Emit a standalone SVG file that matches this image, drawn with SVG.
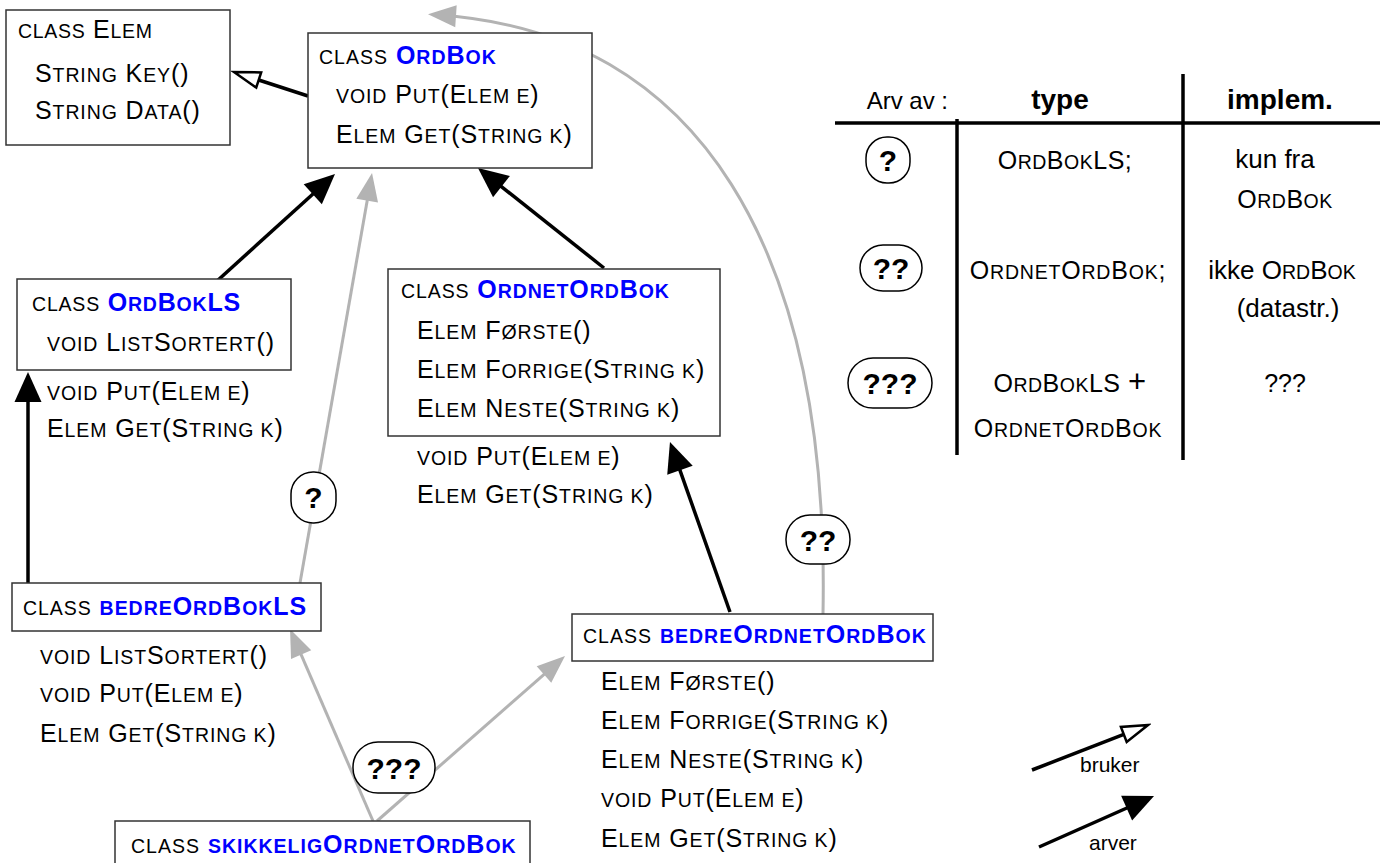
<svg xmlns="http://www.w3.org/2000/svg" width="1386" height="863" viewBox="0 0 1386 863">
  <style>
    .t { font-family: "Liberation Sans", Arial, Helvetica, sans-serif; font-size: 25px; fill: #000; }
    .m { letter-spacing: 0.9px; }
    .s { font-size: 19.5px; }
    .b { font-weight: bold; fill: #0000ff; }
    .box { fill: #fff; stroke: #333; stroke-width: 1.5; }
    .blk { stroke: #000; stroke-width: 3.5; fill: none; }
    .gry { stroke: #b3b3b3; stroke-width: 3; fill: none; }
    .bub { fill: #fff; stroke: #000; stroke-width: 1.5; }
    .q { font-family: "Liberation Sans", Arial, Helvetica, sans-serif; font-weight: bold; font-size: 30px; text-anchor: middle; fill: #000; }
    .rule { stroke: #000; stroke-width: 3.5; }
    .c { text-anchor: middle; }
  </style>
  <defs>
    <!-- filled head: inheritance -->
    <marker id="arv" viewBox="-22 -15 34 30" refX="0" refY="0" markerWidth="34" markerHeight="30" orient="auto" markerUnits="userSpaceOnUse">
      <path d="M10,0 L-20,-13.5 L-20,13.5 z" fill="#000"/>
    </marker>
    <!-- grey filled head -->
    <marker id="arvGrey" viewBox="-20 -13 32 26" refX="0" refY="0" markerWidth="32" markerHeight="26" orient="auto" markerUnits="userSpaceOnUse">
      <path d="M10,0 L-18,-11 L-18,11 z" fill="#b3b3b3"/>
    </marker>
    <!-- open head: uses -->
    <marker id="bruk" viewBox="-3 -11 32 22" refX="0" refY="0" markerWidth="32" markerHeight="22" orient="auto" markerUnits="userSpaceOnUse">
      <path d="M26,0 L0,-8 L0,8 z" fill="#fff" stroke="#000" stroke-width="2.5" stroke-linejoin="miter"/>
    </marker>
  </defs>

  <rect width="1386" height="863" fill="#fff"/>

  <!-- connectors -->
  <g id="connectors">
    <path class="gry" d="M823,614 C830,250 700,32 438,15" marker-end="url(#arvGrey)"/>
    <line class="gry" x1="300" y1="583" x2="370.3" y2="182.9" marker-end="url(#arvGrey)"/>
    <line class="gry" x1="373" y1="821" x2="294" y2="638.2" marker-end="url(#arvGrey)"/>
    <line class="gry" x1="377" y1="821" x2="557.5" y2="662.6" marker-end="url(#arvGrey)"/>

    <line class="blk" x1="217" y1="281" x2="327.6" y2="180.7" marker-end="url(#arv)"/>
    <line class="blk" x1="604" y1="268" x2="485.8" y2="174.2" marker-end="url(#arv)"/>
    <line class="blk" x1="28" y1="583" x2="28" y2="382" marker-end="url(#arv)"/>
    <line class="blk" x1="730" y1="612" x2="673.3" y2="451.4" marker-end="url(#arv)"/>
    <line class="blk" x1="308" y1="96" x2="258.7" y2="80" marker-end="url(#bruk)"/>

    <!-- question labels on the grey links -->
    <rect class="bub" x="291" y="472" width="45" height="51" rx="22"/>
    <text class="q" x="313.5" y="508">?</text>
    <rect class="bub" x="786" y="515" width="64" height="49" rx="24"/>
    <text class="q" x="818" y="551">??</text>
    <rect class="bub" x="353" y="742" width="82" height="51" rx="25"/>
    <text class="q" x="394" y="779">???</text>
  </g>

  <!-- class Elem -->
  <g id="elem">
    <rect class="box" x="6" y="10" width="224" height="135"/>
    <text class="t" x="18" y="38" style="letter-spacing:0.7px"><tspan class="s">CLASS</tspan> E<tspan class="s">LEM</tspan></text>
    <text class="t m" x="35" y="82">S<tspan class="s">TRING</tspan> K<tspan class="s">EY</tspan>()</text>
    <text class="t m" x="35" y="119">S<tspan class="s">TRING</tspan> D<tspan class="s">ATA</tspan>()</text>
  </g>

  <!-- class OrdBok -->
  <g id="ordbok">
    <rect class="box" x="308" y="33" width="284" height="135"/>
    <text class="t" x="319" y="64" style="letter-spacing:1px"><tspan class="s">CLASS</tspan> <tspan class="b">O<tspan class="s">RD</tspan>B<tspan class="s">OK</tspan></tspan></text>
    <text class="t m" x="336" y="103"><tspan class="s">VOID</tspan> P<tspan class="s">UT</tspan>(E<tspan class="s">LEM E</tspan>)</text>
    <text class="t m" x="336" y="143">E<tspan class="s">LEM</tspan> G<tspan class="s">ET</tspan>(S<tspan class="s">TRING K</tspan>)</text>
  </g>

  <!-- class OrdBokLS -->
  <g id="ordbokls">
    <rect class="box" x="17" y="279" width="274" height="91"/>
    <text class="t" x="32" y="311" style="letter-spacing:0.8px"><tspan class="s">CLASS</tspan> <tspan class="b">O<tspan class="s">RD</tspan>B<tspan class="s">OK</tspan>LS</tspan></text>
    <text class="t m" x="47" y="351"><tspan class="s">VOID</tspan> L<tspan class="s">IST</tspan>S<tspan class="s">ORTERT</tspan>()</text>
    <text class="t m" x="47" y="400"><tspan class="s">VOID</tspan> P<tspan class="s">UT</tspan>(E<tspan class="s">LEM E</tspan>)</text>
    <text class="t m" x="47" y="437">E<tspan class="s">LEM</tspan> G<tspan class="s">ET</tspan>(S<tspan class="s">TRING K</tspan>)</text>
  </g>

  <!-- class OrdnetOrdBok -->
  <g id="ordnetordbok">
    <rect class="box" x="388" y="269" width="332" height="167"/>
    <text class="t" x="401" y="298" style="letter-spacing:0.9px"><tspan class="s">CLASS</tspan> <tspan class="b">O<tspan class="s">RDNET</tspan>O<tspan class="s">RD</tspan>B<tspan class="s">OK</tspan></tspan></text>
    <text class="t m" x="417" y="339">E<tspan class="s">LEM</tspan> F<tspan class="s">ØRSTE</tspan>()</text>
    <text class="t m" x="417" y="378">E<tspan class="s">LEM</tspan> F<tspan class="s">ORRIGE</tspan>(S<tspan class="s">TRING K</tspan>)</text>
    <text class="t m" x="417" y="417">E<tspan class="s">LEM</tspan> N<tspan class="s">ESTE</tspan>(S<tspan class="s">TRING K</tspan>)</text>
    <text class="t m" x="417" y="465"><tspan class="s">VOID</tspan> P<tspan class="s">UT</tspan>(E<tspan class="s">LEM E</tspan>)</text>
    <text class="t m" x="417" y="503">E<tspan class="s">LEM</tspan> G<tspan class="s">ET</tspan>(S<tspan class="s">TRING K</tspan>)</text>
  </g>

  <!-- class bedreOrdBokLS -->
  <g id="bedreordbokls">
    <rect class="box" x="12" y="583" width="309" height="48"/>
    <text class="t" x="23" y="615" style="letter-spacing:0.95px"><tspan class="s">CLASS</tspan> <tspan class="b"><tspan class="s">BEDRE</tspan>O<tspan class="s">RD</tspan>B<tspan class="s">OK</tspan>LS</tspan></text>
    <text class="t m" x="40" y="664"><tspan class="s">VOID</tspan> L<tspan class="s">IST</tspan>S<tspan class="s">ORTERT</tspan>()</text>
    <text class="t m" x="40" y="702"><tspan class="s">VOID</tspan> P<tspan class="s">UT</tspan>(E<tspan class="s">LEM E</tspan>)</text>
    <text class="t m" x="40" y="742">E<tspan class="s">LEM</tspan> G<tspan class="s">ET</tspan>(S<tspan class="s">TRING K</tspan>)</text>
  </g>

  <!-- class bedreOrdnetOrdBok -->
  <g id="bedreordnetordbok">
    <rect class="box" x="572" y="614" width="361" height="47"/>
    <text class="t" x="583" y="643" style="letter-spacing:1px"><tspan class="s">CLASS</tspan> <tspan class="b"><tspan class="s">BEDRE</tspan>O<tspan class="s">RDNET</tspan>O<tspan class="s">RD</tspan>B<tspan class="s">OK</tspan></tspan></text>
    <text class="t m" x="601" y="690">E<tspan class="s">LEM</tspan> F<tspan class="s">ØRSTE</tspan>()</text>
    <text class="t m" x="601" y="729">E<tspan class="s">LEM</tspan> F<tspan class="s">ORRIGE</tspan>(S<tspan class="s">TRING K</tspan>)</text>
    <text class="t m" x="601" y="768">E<tspan class="s">LEM</tspan> N<tspan class="s">ESTE</tspan>(S<tspan class="s">TRING K</tspan>)</text>
    <text class="t m" x="601" y="807"><tspan class="s">VOID</tspan> P<tspan class="s">UT</tspan>(E<tspan class="s">LEM E</tspan>)</text>
    <text class="t m" x="601" y="847">E<tspan class="s">LEM</tspan> G<tspan class="s">ET</tspan>(S<tspan class="s">TRING K</tspan>)</text>
  </g>

  <!-- class skikkeligOrdnetOrdBok -->
  <g id="skikkeligordnetordbok">
    <rect class="box" x="115" y="821" width="415" height="60"/>
    <text class="t" x="131" y="853" style="letter-spacing:1px"><tspan class="s">CLASS</tspan> <tspan class="b"><tspan class="s">SKIKKELIG</tspan>O<tspan class="s">RDNET</tspan>O<tspan class="s">RD</tspan>B<tspan class="s">OK</tspan></tspan></text>
  </g>

  <!-- inheritance table -->
  <g id="table">
    <line class="rule" x1="835" y1="123" x2="1380" y2="123"/>
    <line class="rule" x1="957" y1="119" x2="957" y2="455"/>
    <line class="rule" x1="1183" y1="74" x2="1183" y2="460"/>
    <text class="t" x="948" y="109" text-anchor="end" style="font-size:24px">Arv av :</text>
    <text class="t c" x="1060" y="109" style="font-size:28px;font-weight:bold">type</text>
    <text class="t c" x="1280" y="109" style="font-size:28px;font-weight:bold">implem.</text>

    <rect class="bub" x="866" y="137" width="44" height="46" rx="21"/>
    <text class="q" x="888" y="171">?</text>
    <text class="t c" x="1065" y="169" style="letter-spacing:0.5px">O<tspan class="s">RD</tspan>B<tspan class="s">OK</tspan>LS;</text>
    <text class="t c" x="1275" y="168" style="font-size:26px">kun fra</text>
    <text class="t c" x="1285" y="208" style="letter-spacing:0.5px">O<tspan class="s">RD</tspan>B<tspan class="s">OK</tspan></text>

    <rect class="bub" x="860" y="245" width="62" height="46" rx="23"/>
    <text class="q" x="891" y="279">??</text>
    <text class="t c" x="1068" y="279" style="letter-spacing:0.8px">O<tspan class="s">RDNET</tspan>O<tspan class="s">RD</tspan>B<tspan class="s">OK</tspan>;</text>
    <text class="t c" x="1282" y="279" style="font-size:26px">ikke O<tspan class="s">RD</tspan>B<tspan class="s">OK</tspan></text>
    <text class="t c" x="1288" y="317" style="font-size:26px">(datastr.)</text>

    <rect class="bub" x="848" y="358" width="84" height="50" rx="25"/>
    <text class="q" x="890" y="394">???</text>
    <text class="t c" x="1070" y="392" style="letter-spacing:0.5px">O<tspan class="s">RD</tspan>B<tspan class="s">OK</tspan>LS <tspan style="font-size:31px">+</tspan></text>
    <text class="t c" x="1068" y="437" style="letter-spacing:0.8px">O<tspan class="s">RDNET</tspan>O<tspan class="s">RD</tspan>B<tspan class="s">OK</tspan></text>
    <text class="t c" x="1285" y="392">???</text>
  </g>

  <!-- legend -->
  <g id="legend">
    <line class="blk" x1="1032" y1="770" x2="1123.8" y2="734.4" marker-end="url(#bruk)"/>
    <text class="t" x="1080" y="772" style="font-size:21px">bruker</text>
    <line class="blk" x1="1039" y1="847" x2="1144.9" y2="800" marker-end="url(#arv)"/>
    <text class="t" x="1089" y="850" style="font-size:21px">arver</text>
  </g>
</svg>
